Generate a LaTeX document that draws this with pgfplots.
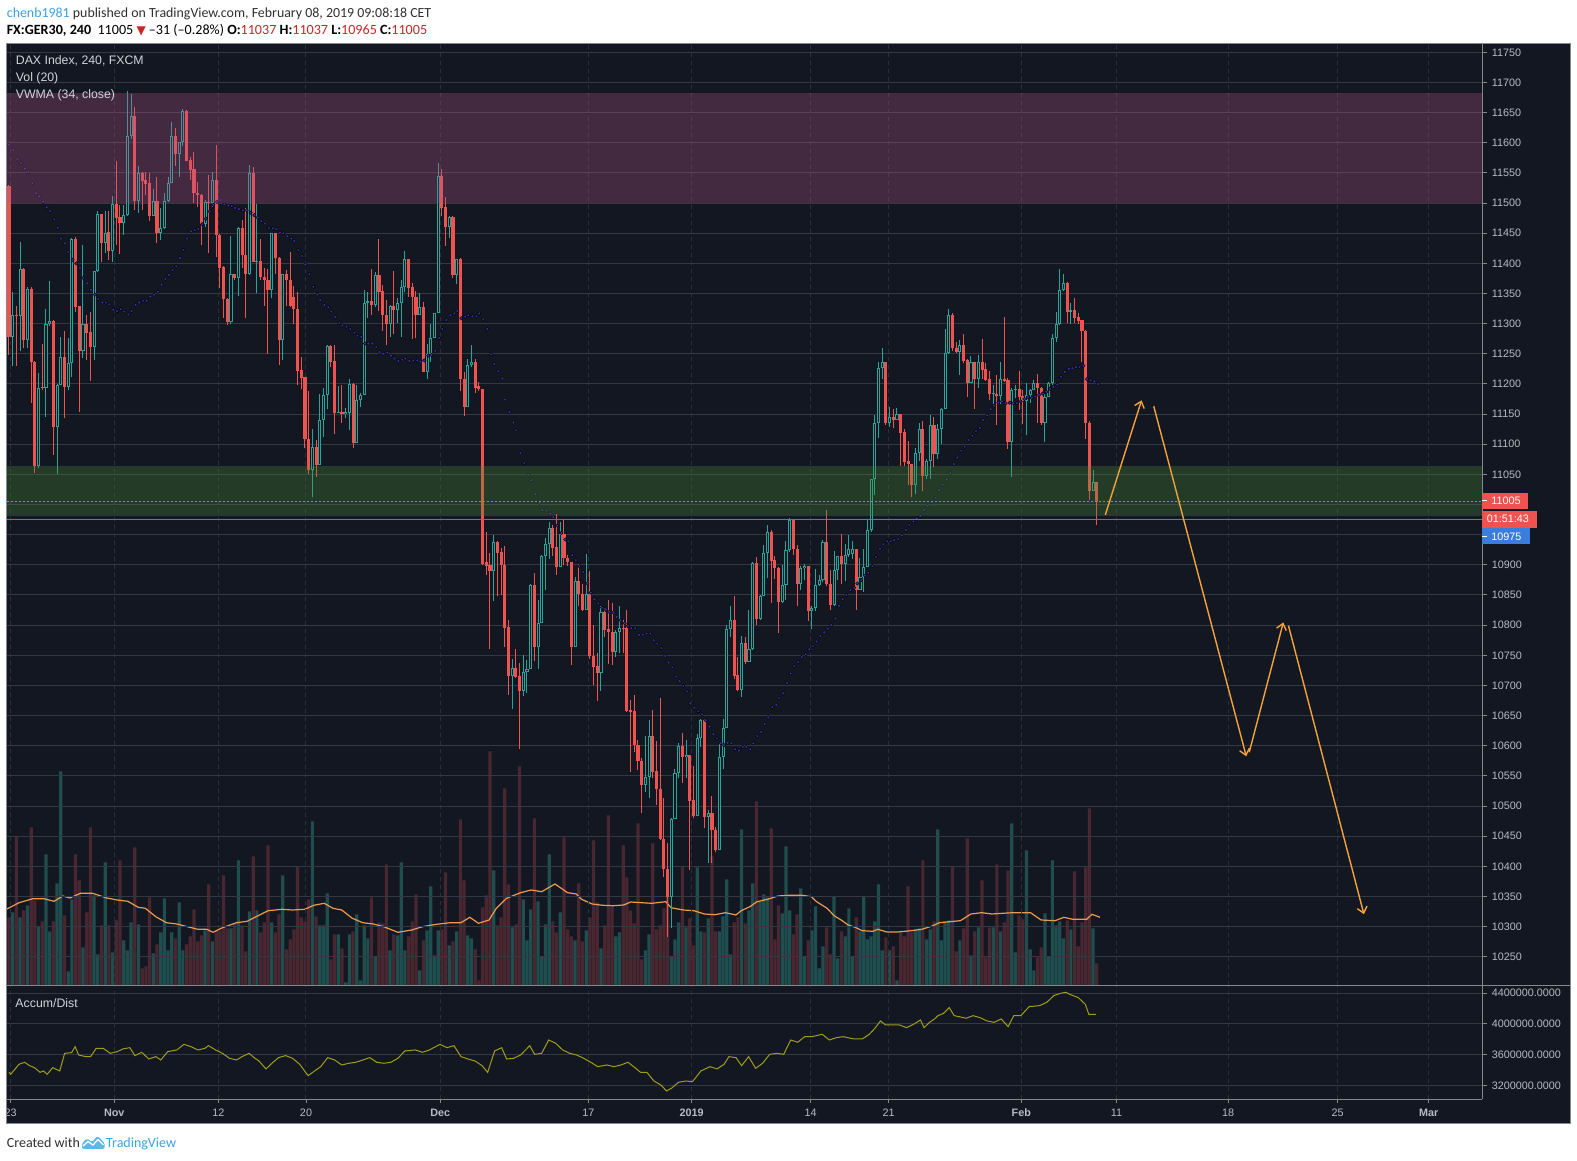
\documentclass[border=0pt]{standalone}
\usepackage{pgfplots}
\pgfplotsset{compat=1.18}
\usepackage{pgfplotstable}
\usepackage{fontspec}
\setmainfont{Liberation Sans}
\newfontfamily\hdr{Carlito}
\newfontfamily\sym{DejaVu Sans}
\usetikzlibrary{arrows.meta}

\definecolor{bg}{HTML}{131722}
\definecolor{gridh}{HTML}{343843}
\definecolor{gridv}{HTML}{2C303B}
\definecolor{upc}{HTML}{26A69A}
\definecolor{dnc}{HTML}{EF5350}
\definecolor{volup}{HTML}{1F4E4F}
\definecolor{voldn}{HTML}{4A2730}
\definecolor{vma}{HTML}{EB9A4E}
\definecolor{vwma}{HTML}{3E2F9E}
\definecolor{adc}{HTML}{9E9E18}
\definecolor{zonep}{RGB}{179,86,137}
\definecolor{zoneg}{RGB}{72,143,51}
\definecolor{bluel}{HTML}{3D7FE0}
\definecolor{lastp}{HTML}{E0703F}
\definecolor{arrowc}{HTML}{F5A23A}
\definecolor{lbl}{HTML}{B8BBC3}
\definecolor{frame}{HTML}{85888F}
\definecolor{tagred}{HTML}{EF5350}
\definecolor{tagblue}{HTML}{3A7DDD}
\definecolor{userblue}{HTML}{3BA3E3}
\definecolor{hdrtext}{HTML}{303030}
\definecolor{valred}{HTML}{C62828}
\definecolor{legendc}{HTML}{D1D4DC}
\definecolor{logoblue}{HTML}{5DB8E8}

\newcommand\lblfont{\fontsize{10.8}{12}\selectfont}
\newcommand\legfont{\fontsize{12.3}{14}\selectfont}

% i open high low close volume(px)
\pgfplotstableread{
i o h l c v
0 11528 11530 11248 11278 68
1 11278 11353 11229 11315 73
2 11315 11330 11230 11313 149
3 11313 11436 11254 11391 68
4 11391 11392 11259 11273 75
5 11273 11360 11259 11357 80
6 11357 11361 11168 11236 158
7 11236 11238 11052 11064 85
8 11064 11218 11060 11194 59
9 11195 11266 11190 11193 64
10 11193 11324 11146 11300 131
11 11300 11370 11296 11305 54
12 11305 11306 11082 11129 64
13 11129 11200 11050 11199 102
14 11199 11278 11198 11245 214
15 11245 11288 11143 11195 70
16 11195 11277 11190 11234 14
17 11234 11442 11212 11440 86
18 11440 11443 11320 11328 131
19 11329 11330 11154 11254 105
20 11254 11430 11243 11299 38
21 11299 11314 11240 11285 73
22 11286 11320 11205 11262 158
23 11262 11388 11240 11387 90
24 11387 11487 11385 11481 31
25 11481 11482 11403 11434 60
26 11434 11486 11417 11451 123
27 11452 11486 11406 11421 60
28 11421 11511 11403 11499 33
29 11499 11570 11430 11476 65
30 11477 11497 11415 11467 125
31 11467 11497 11447 11480 45
32 11480 11686 11478 11611 35
33 11611 11681 11607 11644 63
34 11644 11659 11488 11503 138
35 11503 11561 11483 11549 61
36 11549 11551 11488 11536 17
37 11538 11552 11513 11531 19
38 11533 11549 11470 11479 88
39 11479 11523 11478 11504 32
40 11504 11544 11433 11450 41
41 11450 11491 11439 11458 53
42 11458 11516 11457 11504 87
43 11504 11544 11502 11534 35
44 11534 11635 11533 11612 53
45 11612 11624 11562 11582 47
46 11582 11602 11544 11601 83
47 11601 11656 11594 11653 35
48 11653 11654 11569 11570 41
49 11571 11577 11538 11555 49
50 11556 11584 11500 11516 76
51 11517 11535 11494 11513 44
52 11514 11515 11430 11466 50
53 11466 11505 11461 11502 55
54 11502 11546 11417 11500 101
55 11500 11551 11494 11538 44
56 11538 11596 11411 11447 55
57 11447 11448 11359 11393 55
58 11394 11395 11310 11341 110
59 11341 11342 11298 11302 57
60 11302 11445 11300 11382 57
61 11382 11383 11373 11375 62
62 11375 11461 11346 11458 125
63 11458 11472 11392 11414 60
64 11414 11491 11309 11382 34
65 11382 11563 11380 11550 74
66 11550 11559 11402 11403 129
67 11403 11498 11350 11404 75
68 11404 11441 11372 11378 53
69 11378 11392 11330 11372 63
70 11372 11390 11250 11355 140
71 11355 11451 11342 11450 63
72 11450 11451 11383 11409 53
73 11409 11410 11231 11273 71
74 11273 11383 11240 11382 110
75 11382 11389 11330 11372 36
76 11372 11418 11328 11329 46
77 11345 11363 11299 11324 56
78 11324 11352 11198 11221 119
79 11223 11245 11191 11210 68
80 11212 11212 11093 11108 64
81 11109 11189 11050 11058 86
82 11058 11125 11012 11096 164
83 11096 11107 11045 11066 69
84 11066 11183 11066 11141 60
85 11141 11194 11112 11182 60
86 11182 11264 11158 11263 92
87 11263 11264 11228 11237 26
88 11238 11264 11117 11152 51
89 11152 11196 11152 11154 51
90 11154 11198 11136 11150 37
91 11150 11160 11144 11154 3
92 11152 11209 11123 11200 51
93 11200 11202 11093 11102 54
94 11102 11199 11102 11173 71
95 11173 11185 11161 11182 5
96 11182 11356 11182 11335 60
97 11335 11353 11310 11337 47
98 11337 11391 11315 11331 88
99 11331 11385 11328 11380 29
100 11380 11440 11321 11353 63
101 11354 11364 11287 11314 62
102 11314 11340 11264 11299 121
103 11299 11331 11278 11330 35
104 11330 11388 11282 11323 51
105 11323 11342 11301 11334 50
106 11334 11372 11278 11361 123
107 11361 11420 11353 11407 35
108 11407 11408 11345 11359 49
109 11361 11367 11275 11345 64
110 11345 11354 11277 11315 91
111 11315 11350 11315 11328 15
112 11328 11336 11219 11220 45
113 11220 11266 11209 11250 55
114 11250 11299 11237 11276 99
115 11276 11318 11276 11317 30
116 11317 11566 11317 11545 55
117 11545 11556 11479 11492 56
118 11493 11510 11429 11461 113
119 11461 11479 11442 11477 40
120 11477 11478 11375 11380 44
121 11380 11408 11366 11407 54
122 11407 11409 11188 11209 166
123 11209 11220 11147 11161 105
124 11161 11241 11161 11231 50
125 11231 11264 11228 11236 47
126 11236 11242 11185 11194 36
127 11196 11203 11189 11191 5
128 11191 11191 10899 10902 78
129 10904 10955 10883 10898 90
130 10899 10920 10761 10890 234
131 10890 10950 10840 10938 115
132 10938 10939 10849 10920 60
133 10922 10928 10850 10899 68
134 10899 10931 10763 10796 197
135 10797 10808 10684 10715 101
136 10715 10744 10661 10729 58
137 10729 10761 10712 10714 61
138 10715 10737 10595 10691 219
139 10691 10750 10682 10722 86
140 10722 10742 10687 10727 45
141 10727 10869 10727 10866 76
142 10866 10887 10741 10763 167
143 10763 10842 10728 10804 84
144 10804 10916 10804 10914 29
145 10914 10944 10858 10935 61
146 10935 10971 10909 10961 131
147 10961 10966 10915 10928 64
148 10929 10984 10883 10896 53
149 10896 10971 10896 10951 73
150 10951 10975 10900 10911 148
151 10911 10916 10898 10904 56
152 10904 10904 10734 10764 49
153 10764 10880 10764 10873 45
154 10873 10902 10831 10852 102
155 10852 10868 10824 10825 44
156 10825 10918 10825 10852 55
157 10852 10889 10744 10748 68
158 10749 10800 10701 10731 145
159 10732 10753 10675 10721 83
160 10721 10832 10690 10821 37
161 10821 10828 10781 10792 60
162 10793 10842 10736 10788 170
163 10789 10837 10734 10756 80
164 10756 10792 10747 10789 49
165 10789 10832 10753 10795 53
166 10795 10808 10753 10793 140
167 10795 10825 10656 10658 108
168 10659 10676 10557 10656 75
169 10657 10684 10590 10601 62
170 10601 10610 10560 10574 162
171 10575 10579 10489 10535 26
172 10535 10616 10524 10548 35
173 10548 10643 10514 10616 51
174 10616 10660 10546 10557 142
175 10558 10608 10502 10529 56
176 10529 10679 10443 10445 60
177 10445 10514 10383 10395 77
178 10395 10438 10283 10349 90
179 10349 10480 10297 10478 29
180 10478 10561 10478 10555 46
181 10555 10605 10546 10600 63
182 10600 10621 10538 10581 119
183 10581 10609 10546 10585 58
184 10585 10585 10394 10509 67
185 10510 10566 10480 10483 40
186 10483 10620 10483 10613 118
187 10613 10644 10598 10643 54
188 10643 10644 10463 10482 53
189 10482 10493 10405 10489 67
190 10489 10517 10406 10461 129
191 10461 10466 10423 10427 54
192 10427 10607 10427 10581 54
193 10581 10645 10561 10629 69
194 10629 10800 10629 10793 106
195 10793 10832 10780 10808 31
196 10808 10848 10710 10716 63
197 10717 10748 10690 10692 68
198 10692 10782 10681 10771 156
199 10771 10781 10735 10739 62
200 10739 10825 10739 10760 75
201 10760 10905 10759 10903 102
202 10903 10913 10800 10811 184
203 10811 10850 10808 10848 84
204 10848 10933 10848 10920 91
205 10920 10966 10878 10955 88
206 10955 10958 10837 10907 157
207 10908 10915 10877 10894 46
208 10894 10896 10787 10839 80
209 10839 10900 10837 10867 72
210 10867 10940 10842 10924 139
211 10924 10977 10922 10975 75
212 10975 10975 10916 10927 51
213 10927 10933 10832 10868 71
214 10868 10898 10858 10894 97
215 10894 10902 10875 10898 29
216 10898 10898 10807 10824 45
217 10824 10831 10793 10829 55
218 10829 10893 10824 10866 79
219 10866 10883 10865 10875 17
220 10875 10941 10872 10938 39
221 10938 10991 10865 10868 58
222 10869 10891 10825 10833 31
223 10833 10923 10832 10892 89
224 10892 10915 10875 10915 27
225 10915 10951 10869 10901 54
226 10901 10935 10873 10916 49
227 10916 10950 10913 10926 77
228 10918 10940 10910 10926 29
229 10926 10926 10825 10858 68
230 10858 10912 10858 10880 54
231 10880 10926 10855 10897 89
232 10897 10974 10897 10957 46
233 10957 11043 10954 11042 49
234 11042 11148 11015 11136 64
235 11136 11236 11111 11226 101
236 11226 11260 11209 11236 35
237 11236 11236 11132 11136 48
238 11136 11161 11129 11146 35
239 11146 11158 11127 11140 39
240 11140 11160 11140 11150 5
241 11150 11150 11064 11119 53
242 11121 11125 11064 11071 49
243 11072 11105 11033 11068 99
244 11068 11068 11013 11032 53
245 11032 11094 11018 11086 56
246 11086 11135 11072 11126 57
247 11126 11138 11022 11048 125
248 11048 11075 11042 11072 46
249 11072 11148 11043 11132 56
250 11132 11145 11063 11083 64
251 11083 11133 11076 11125 156
252 11125 11160 11101 11158 45
253 11158 11291 11158 11252 64
254 11252 11324 11249 11315 65
255 11315 11317 11254 11260 119
256 11260 11269 11252 11253 34
257 11253 11273 11214 11265 45
258 11265 11282 11234 11238 57
259 11240 11241 11179 11202 147
260 11202 11247 11201 11236 30
261 11236 11237 11158 11208 54
262 11208 11248 11194 11236 58
263 11236 11274 11208 11223 105
264 11225 11234 11205 11206 28
265 11208 11221 11173 11183 58
266 11183 11198 11161 11184 58
267 11184 11215 11132 11180 121
268 11180 11236 11166 11209 54
269 11209 11311 11204 11205 63
270 11206 11210 11092 11103 115
271 11103 11193 11046 11190 162
272 11190 11199 11177 11191 33
273 11191 11221 11157 11179 70
274 11180 11190 11134 11172 66
275 11172 11201 11115 11181 135
276 11181 11191 11168 11190 36
277 11190 11207 11190 11201 15
278 11201 11216 11136 11193 28
279 11193 11195 11132 11135 38
280 11135 11183 11103 11179 72
281 11179 11204 11179 11201 29
282 11201 11282 11198 11276 125
283 11276 11320 11269 11299 60
284 11299 11391 11298 11356 64
285 11356 11382 11354 11367 47
286 11367 11369 11301 11319 65
287 11319 11335 11299 11322 56
288 11322 11343 11301 11310 114
289 11311 11317 11299 11304 39
290 11306 11306 11237 11287 63
291 11288 11289 11109 11136 118
292 11136 11138 11007 11022 177
293 11022 11057 11022 11037 57
294 11037 11037 10966 11005 22
}\candles

% VWMA (34, close)
\pgfplotstableread{
i p
0 11597
1.17 11588
2.25 11573
3.24 11566
4.32 11557
5.23 11552
6.31 11533
7.21 11516
8.11 11511
9.28 11502
10.18 11493
11.17 11487
12.25 11473
13.15 11459
14.05 11441
15.14 11433
16.04 11419
17.21 11406
18.2 11400
19.19 11393
20.09 11376
21.17 11367
22.16 11356
23.24 11348
24.14 11341
25.23 11335
26.22 11335
27.12 11332
28.2 11323
29.19 11321
30.18 11324
31.17 11320
32.25 11315
33.15 11321
34.23 11331
35.23 11335
36.22 11338
37.21 11338
38.2 11345
39.19 11348
40.18 11353
41.26 11365
42.25 11374
43.24 11381
44.23 11389
45.23 11395
46.22 11409
47.12 11422
48.11 11441
49.19 11453
50.18 11455
51.17 11457
52.25 11465
53.24 11474
54.23 11486
55.23 11497
56.22 11502
57.21 11505
58.2 11498
59.28 11496
60.18 11495
61.08 11492
62.16 11490
63.24 11488
64.23 11488
65.32 11484
66.31 11480
67.21 11476
68.2 11470
69.19 11466
70.27 11459
71.26 11458
72.25 11457
73.24 11451
74.14 11450
75.23 11445
76.31 11441
77.12 11437
78.2 11422
79.28 11412
80.09 11398
81.17 11382
82.25 11361
83.33 11348
84.14 11339
85.23 11331
86.31 11327
87.12 11320
88.2 11311
89.28 11301
90.09 11297
91.17 11295
92.25 11291
93.33 11285
94.14 11280
95.23 11278
96.22 11267
97.12 11267
98.2 11267
99.28 11261
100.09 11253
101.17 11250
102.25 11252
103.24 11247
104.14 11242
105.23 11238
106.31 11240
107.12 11242
108.2 11238
109.28 11239
110.36 11239
111.17 11237
112.25 11239
113.33 11247
114.14 11248
115.23 11255
116.31 11276
117.12 11291
118.2 11306
119.28 11314
120.36 11317
121.17 11321
122.25 11309
123.33 11312
124.14 11314
125.23 11312
126.31 11312
127.12 11317
128.2 11307
129.28 11291
130.36 11249
131.17 11233
132.25 11221
133.33 11209
134.14 11174
135.23 11153
136.31 11136
137.12 11123
138.2 11085
139.28 11069
140.36 11049
141.17 11040
142.25 11017
143.33 11003
144.14 10991
145.23 10990
146.31 10985
147.12 10979
148.2 10965
149.28 10953
150.36 10942
151.17 10939
152.25 10916
153.24 10908
154.14 10898
155.23 10888
156.31 10869
157.21 10854
158.2 10843
159.28 10836
160.27 10829
161.26 10826
162.25 10822
163.33 10821
164.23 10814
165.32 10808
166.4 10803
167.3 10799
168.2 10795
169.28 10795
170.27 10784
171.26 10784
172.34 10786
173.33 10786
174.23 10775
175.22 10769
176.3 10762
177.38 10749
178.29 10738
179.28 10730
180.36 10715
181.26 10707
182.25 10699
183.24 10690
184.14 10670
185.23 10663
186.31 10657
187.3 10652
188.3 10642
189.28 10632
190.36 10619
191.35 10612
192.34 10604
193.24 10601
194.23 10605
195.23 10604
196.31 10594
197.3 10592
198.29 10598
199.28 10598
200.36 10594
201.17 10604
202.25 10616
203.33 10623
204.23 10636
205.22 10647
206.31 10664
207.39 10668
208.2 10679
209.28 10687
210.27 10704
211.26 10720
212.25 10732
213.33 10739
214.23 10747
215.32 10752
216.31 10760
217.3 10765
218.29 10773
219.28 10782
220.36 10788
221.26 10794
222.25 10800
223.33 10811
224.32 10832
225.31 10843
226.31 10850
227.39 10858
228.38 10862
229.28 10869
230.36 10875
231.35 10882
232.25 10887
233.33 10898
234.32 10913
235.41 10927
236.31 10934
237.39 10939
238.29 10939
239.28 10941
240.36 10943
241.35 10949
242.43 10958
243.33 10966
244.41 10972
245.32 10977
246.31 10981
247.3 10991
248.29 10998
249.37 11004
250.45 11011
251.35 11024
252.34 11033
253.42 11042
254.41 11052
255.32 11067
256.31 11078
257.39 11089
258.29 11096
259.37 11107
260.36 11114
261.35 11122
262.43 11127
263.33 11140
264.41 11148
265.32 11158
266.31 11164
267.39 11169
268.38 11171
269.37 11168
270.45 11169
271.44 11168
272.43 11168
273.42 11171
274.41 11175
275.41 11178
276.4 11177
277.39 11179
278.38 11182
279.37 11184
280.36 11187
281.35 11192
282.34 11195
283.33 11199
284.32 11212
285.32 11220
286.4 11225
287.39 11226
288.38 11228
289.37 11228
290.36 11230
291.35 11208
292.34 11206
293.33 11204
294.32 11200
}\vwma

% Volume MA (20), same units as volume
\pgfplotstableread{
i h
-1.08 75.3
2.71 82.6
6.50 86.6
9.35 86.6
12.19 84.0
14.56 89.3
16.46 87.3
19.30 92.0
22.62 92.0
26.41 87.3
29.26 85.3
32.10 84.0
34.94 78.0
36.84 77.0
39.68 68.6
42.53 62.6
45.37 61.3
48.22 58.6
51.06 56.0
53.43 56.0
55.14 53.0
57.70 57.6
61.49 62.6
64.33 64.0
67.18 69.3
70.02 74.6
73.81 76.0
76.65 75.3
79.97 76.0
82.34 80.0
85.19 82.0
87.56 77.0
89.93 75.3
92.77 67.0
95.62 62.6
98.46 61.3
101.30 58.6
105.10 53.0
108.89 55.3
111.73 58.6
115.52 61.0
119.32 62.6
122.16 62.6
124.53 68.0
126.90 62.0
129.74 65.3
131.64 76.6
134.48 87.0
138.27 92.6
141.12 95.3
143.96 93.6
147.57 101.3
150.96 92.6
153.33 91.3
154.75 86.0
157.6 81.3
160.44 80.0
163.28 79.6
166.13 80.3
168.02 83.3
170.87 82.6
173.71 82.0
177.5 83.6
178.93 77.6
182.24 75.3
185.09 74.6
187.93 71.3
190.78 70.6
193.62 72.6
196.46 70.3
197.89 74.6
200.26 78.6
202.15 83.6
205.0 86.0
207.84 89.3
210.68 90.0
214.48 90.0
216.85 88.6
218.27 83.6
221.11 77.0
223.01 69.6
224.9 65.3
226.8 60.3
228.7 58.0
230.59 54.6
233.44 54.0
234.86 56.0
237.23 53.3
240.07 53.3
243.86 54.6
246.71 56.0
249.55 59.3
251.45 62.6
254.29 63.6
257.14 64.6
259.98 71.3
262.83 72.6
265.67 71.3
268.51 72.0
271.36 72.6
276.1 72.6
278.94 65.3
282.73 64.6
285.1 68.0
287.47 66.0
291.26 66.0
292.68 71.0
294.86 68.0
}\volma

% Accumulation/Distribution (millions)
\pgfplotstableread{
i v
0 3.369
0.44 3.343
2.71 3.474
4.23 3.500
5.56 3.456
6.88 3.430
8.40 3.369
9.35 3.387
10.30 3.343
11.81 3.430
13.71 3.387
15.04 3.617
16.93 3.626
17.88 3.704
18.83 3.595
20.72 3.574
22.05 3.574
23.57 3.682
25.46 3.682
27.36 3.617
29.26 3.639
30.77 3.674
32.67 3.691
34.00 3.587
35.89 3.630
37.79 3.543
39.68 3.574
41.01 3.530
42.91 3.639
45.37 3.661
47.27 3.734
49.16 3.704
51.06 3.661
52.96 3.682
53.90 3.717
55.80 3.661
57.70 3.617
59.59 3.552
61.49 3.530
63.00 3.574
64.90 3.617
66.23 3.561
67.56 3.517
69.45 3.413
71.35 3.500
72.86 3.561
74.76 3.587
76.66 3.552
78.55 3.474
80.83 3.326
82.34 3.378
84.24 3.443
86.14 3.561
88.03 3.530
89.93 3.465
91.82 3.487
93.72 3.500
95.62 3.530
97.51 3.561
99.41 3.500
101.30 3.487
103.20 3.500
105.10 3.552
106.99 3.648
109.84 3.661
111.73 3.630
113.63 3.661
116.47 3.734
118.37 3.691
120.26 3.717
122.16 3.574
124.06 3.543
125.95 3.517
127.85 3.456
129.36 3.369
131.26 3.648
133.16 3.691
134.48 3.543
136.38 3.552
138.28 3.595
140.74 3.717
142.07 3.604
143.96 3.617
145.86 3.791
147.76 3.748
149.65 3.661
151.55 3.617
153.44 3.595
155.34 3.552
157.24 3.500
159.13 3.443
161.60 3.465
163.49 3.443
165.39 3.465
167.28 3.500
169.18 3.430
170.70 3.369
172.40 3.369
174.30 3.256
176.20 3.204
177.71 3.126
179.04 3.161
180.94 3.239
182.83 3.256
184.73 3.248
187.00 3.387
189.47 3.443
191.36 3.413
193.26 3.474
194.59 3.574
196.48 3.561
198.00 3.456
199.90 3.574
201.79 3.421
203.69 3.487
205.58 3.604
207.48 3.617
209.38 3.604
211.27 3.791
213.17 3.761
215.06 3.834
216.96 3.834
219.80 3.865
221.70 3.791
223.60 3.821
225.49 3.834
228.34 3.804
230.61 3.804
232.51 3.865
234.02 3.943
235.54 4.039
236.87 3.987
238.76 3.987
240.66 3.987
242.56 3.952
244.45 3.995
246.35 4.052
247.30 3.952
248.81 4.021
250.14 4.065
251.08 4.108
252.60 4.139
254.12 4.213
255.45 4.108
256.78 4.095
258.67 4.074
260.57 4.108
262.46 4.082
264.36 4.039
266.26 4.021
268.15 4.065
270.05 3.965
271.56 4.108
273.46 4.108
275.74 4.226
278.58 4.239
280.48 4.282
282.37 4.369
284.27 4.400
285.60 4.413
287.11 4.378
289.01 4.343
290.90 4.256
291.85 4.126
293.75 4.126
}\ad

\pgfplotsset{
  base/.style={
    scale only axis, width=1475.6pt, anchor=south west,
    xmin=-0.6216, xmax=398.189,
    axis line style={draw=none}, major tick length=0pt,
    tick style={draw=none},
    scaled ticks=false,
    xticklabels={}, yticklabels={},
    xtick={0.459,28.46,56.57,80.27,116.57,156.57,184.51,216.68,237.76,273.59,299.3,329.5,359.1,383.7},
    x grid style={gridv, line width=1pt, dash pattern=on 4pt off 4pt},
    y grid style={gridh, line width=1pt},
    clip mode=individual,
  }
}

\begin{document}
\begin{tikzpicture}[x=1pt,y=1pt]
\useasboundingbox (0,0) rectangle (1577,1161);
\fill[white] (0,0) rectangle (1577,1161);
\fill[bg] (6.7,37) rectangle (1570,1117.7);

% ---------------- volume pane (overlay) ----------------
\begin{axis}[base, at={(6.7pt,175.7pt)}, height=942pt, ymin=0, ymax=942, ytick=\empty, xtick=\empty]
\addplot[ybar, bar width=3.2pt, bar shift=0pt, fill=volup, draw=none,
  restrict expr to domain={\thisrow{c}-\thisrow{o}}{0:100000}] table[x=i,y=v]{\candles};
\addplot[ybar, bar width=3.2pt, bar shift=0pt, fill=voldn, draw=none,
  restrict expr to domain={\thisrow{c}-\thisrow{o}}{-100000:-0.01}] table[x=i,y=v]{\candles};
\addplot[vma, line width=1.2pt, mark=none] table[x=i,y=h]{\volma};
\end{axis}

% ---------------- main price pane ----------------
\begin{axis}[base, at={(6.7pt,175.7pt)}, height=942pt,
  ymin=10202.74, ymax=11764.93, ytick={10250,10300,...,11750},
  xmajorgrids, ymajorgrids]
% wicks
\addplot[draw=upc, line width=1pt, quiver={u=0,v=\thisrow{h}-\thisrow{l}},
  restrict expr to domain={\thisrow{c}-\thisrow{o}}{0:100000}] table[x=i,y=l]{\candles};
\addplot[draw=dnc, line width=1pt, quiver={u=0,v=\thisrow{h}-\thisrow{l}},
  restrict expr to domain={\thisrow{c}-\thisrow{o}}{-100000:-0.01}] table[x=i,y=l]{\candles};
% bodies
\addplot[draw=dnc, line width=3.1pt, quiver={u=0,v={min(\thisrow{c}-\thisrow{o},-1.7)}},
  restrict expr to domain={\thisrow{c}-\thisrow{o}}{-100000:-0.01}] table[x=i,y=o]{\candles};
\addplot[draw=upc, line width=3.1pt, quiver={u=0,v={max(\thisrow{c}-\thisrow{o},1.7)}},
  restrict expr to domain={\thisrow{c}-\thisrow{o}}{0:100000}] table[x=i,y=o]{\candles};
\addplot[draw=bg, line width=1.1pt, quiver={u=0,v={\thisrow{c}-\thisrow{o}-3.32}},
  restrict expr to domain={\thisrow{c}-\thisrow{o}}{3.4:100000}] table[x=i,y expr=\thisrow{o}+1.66]{\candles};
% VWMA
\addplot[only marks, mark=*, mark size=1.75pt, mark options={draw=none, fill=vwma}] table[x=i,y=p]{\vwma};
% zones
\addplot[draw=none, fill=zonep, fill opacity=0.3] coordinates {(-0.6216,11500) (398.189,11500) (398.189,11682) (-0.6216,11682)} -- cycle;
\addplot[draw=none, fill=zoneg, fill opacity=0.3] coordinates {(-0.6216,10981) (398.189,10981) (398.189,11064) (-0.6216,11064)} -- cycle;
% lines
\addplot[bluel, line width=1.2pt] coordinates {(-0.6216,10975) (398.189,10975)};
\addplot[lastp, line width=1pt, dash pattern=on 2pt off 2pt] coordinates {(-0.6216,11005) (398.189,11005)};
% projection arrows
\addplot[arrowc, line width=1.4pt, -{Straight Barb[length=6pt,width=10pt]}] coordinates {(296.3,10982.8) (306.1,11172.9)};
\addplot[arrowc, line width=1.4pt, -{Straight Barb[length=6pt,width=10pt]}] coordinates {(309.4,11162.9) (334.4,10582.5)};
\addplot[arrowc, line width=1.4pt, -{Straight Barb[length=6pt,width=10pt]}] coordinates {(335.2,10589.2) (344.4,10804.4)};
\addplot[arrowc, line width=1.4pt, -{Straight Barb[length=6pt,width=10pt]}] coordinates {(345.8,10799.3) (366.2,10320.6)};
% price scale labels
\pgfplotsinvokeforeach{10250,10300,...,10900}{
  \draw[frame, line width=1pt] (axis cs:398.189,#1) -- ++(5pt,0pt);
  \node[anchor=west, inner sep=0pt, text=lbl, font=\lblfont] at ([xshift=9.4pt]axis cs:398.189,#1) {#1};
}
\pgfplotsinvokeforeach{11050,11100,...,11750}{
  \draw[frame, line width=1pt] (axis cs:398.189,#1) -- ++(5pt,0pt);
  \node[anchor=west, inner sep=0pt, text=lbl, font=\lblfont] at ([xshift=9.4pt]axis cs:398.189,#1) {#1};
}
\end{axis}

% ---------------- Accum/Dist pane ----------------
\begin{axis}[base, at={(6.7pt,61.7pt)}, height=114pt,
  ymin=3.0175, ymax=4.504, ytick={3.2,3.6,4.0,4.4},
  xmajorgrids, ymajorgrids]
\addplot[adc, line width=1pt, mark=none] table[x=i,y=v]{\ad};
\pgfplotsinvokeforeach{3.2,3.6,4.0,4.4}{
  \draw[frame, line width=1pt] (axis cs:398.189,#1) -- ++(5pt,0pt);
}
\node[anchor=west, inner sep=0pt, text=lbl, font=\lblfont] at ([xshift=9.4pt]axis cs:398.189,4.4) {4400000.0000};
\node[anchor=west, inner sep=0pt, text=lbl, font=\lblfont] at ([xshift=9.4pt]axis cs:398.189,4.0) {4000000.0000};
\node[anchor=west, inner sep=0pt, text=lbl, font=\lblfont] at ([xshift=9.4pt]axis cs:398.189,3.6) {3600000.0000};
\node[anchor=west, inner sep=0pt, text=lbl, font=\lblfont] at ([xshift=9.4pt]axis cs:398.189,3.2) {3200000.0000};
\end{axis}

% ---------------- frame ----------------
\draw[frame, line width=1pt] (6.7,37) rectangle (1570,1117.7);
\draw[frame, line width=1pt] (1482.3,1117.7) -- (1482.3,61.7);
\draw[frame, line width=1pt] (6.7,175.7) -- (1570,175.7);
\draw[frame, line width=1pt] (6.7,61.7) -- (1482.3,61.7);

% time axis labels
\begin{scope}
\clip (7.2,37) rectangle (1570,1117.7);
\foreach \xx/\tt in {10.7/23, 218.3/12, 306/20, 588.3/17, 810.7/14, 888.7/21, 1116.4/11, 1228/18, 1337.6/25}{
  \draw[frame, line width=1pt] (\xx,61.7) -- (\xx,57.5);
  \node[text=lbl, font=\lblfont, inner sep=0pt] at (\xx,48.3) {\tt};
}
\foreach \xx/\tt in {114.3/Nov, 440.3/Dec, 691.7/2019, 1021.3/Feb, 1428.7/Mar}{
  \draw[frame, line width=1pt] (\xx,61.7) -- (\xx,57.5);
  \node[text=lbl, font=\lblfont\bfseries, inner sep=0pt] at (\xx,48.3) {\tt};
}
\end{scope}

% price tags
\fill[tagred] (1482.3,651.7) rectangle (1527.7,668.3);
\draw[white, line width=1pt] (1482.3,660) -- (1486.5,660);
\node[anchor=west, inner sep=0pt, text=white, font=\lblfont] at (1491.2,660) {11005};
\fill[tagred] (1482.3,633.3) rectangle (1537.3,650.3);
\node[anchor=west, inner sep=0pt, text=white, font=\lblfont] at (1486.7,641.8) {01:51:43};
\fill[tagblue] (1482.3,616.7) rectangle (1530,632.7);
\draw[white, line width=1pt] (1482.3,624.7) -- (1486.5,624.7);
\node[anchor=west, inner sep=0pt, text=white, font=\lblfont] at (1491.2,624.7) {10975};

% pane legends
\node[anchor=west, inner sep=0pt, text=legendc, font=\legfont] at (15.7,1100) {DAX Index, 240, FXCM};
\node[anchor=west, inner sep=0pt, text=legendc, font=\legfont] at (15.7,1082.3) {Vol (20)};
\node[anchor=west, inner sep=0pt, text=legendc, font=\legfont] at (15.7,1066) {VWMA (34, close)};
\node[anchor=west, inner sep=0pt, text=legendc, font=\legfont] at (15.3,158.3) {Accum/Dist};

% header
\node[anchor=base west, inner sep=0pt, font=\hdr\fontsize{13.9}{16}\selectfont] at (6.7,1143.5)
  {\textcolor{userblue}{chenb1981} \textcolor{hdrtext}{published on TradingView.com, February 08, 2019 09:08:18 CET}};
\node[anchor=base west, inner sep=0pt, font=\hdr\fontsize{14.1}{16}\selectfont, text=black] at (6.7,1126.7)
  {\textbf{FX:GER30, 240}\ \ 11005 {\sym\fontsize{12}{12}\selectfont\textcolor{valred}{▼}} –31 (–0.28\%)\ \textbf{O:}\textcolor{valred}{11037} \textbf{H:}\textcolor{valred}{11037} \textbf{L:}\textcolor{valred}{10965} \textbf{C:}\textcolor{valred}{11005}};

% footer
\node[anchor=base west, inner sep=0pt, font=\hdr\fontsize{14}{16}\selectfont, text=hdrtext] at (6.7,13.3) {Created with};
\fill[logoblue, rounded corners=1.5pt] (82,12) -- (82,17.5) -- (87,22.5) -- (92,19) -- (97.5,25) -- (104.5,18) -- (104.5,12) -- cycle;
\draw[white, line width=1.3pt] (83,15) -- (88,19.5) -- (93,16) -- (98,21.5) -- (103.5,16);
\node[anchor=base west, inner sep=0pt, font=\hdr\fontsize{14}{16}\selectfont, text=userblue] at (106,13.3) {TradingView};
\end{tikzpicture}
\end{document}
